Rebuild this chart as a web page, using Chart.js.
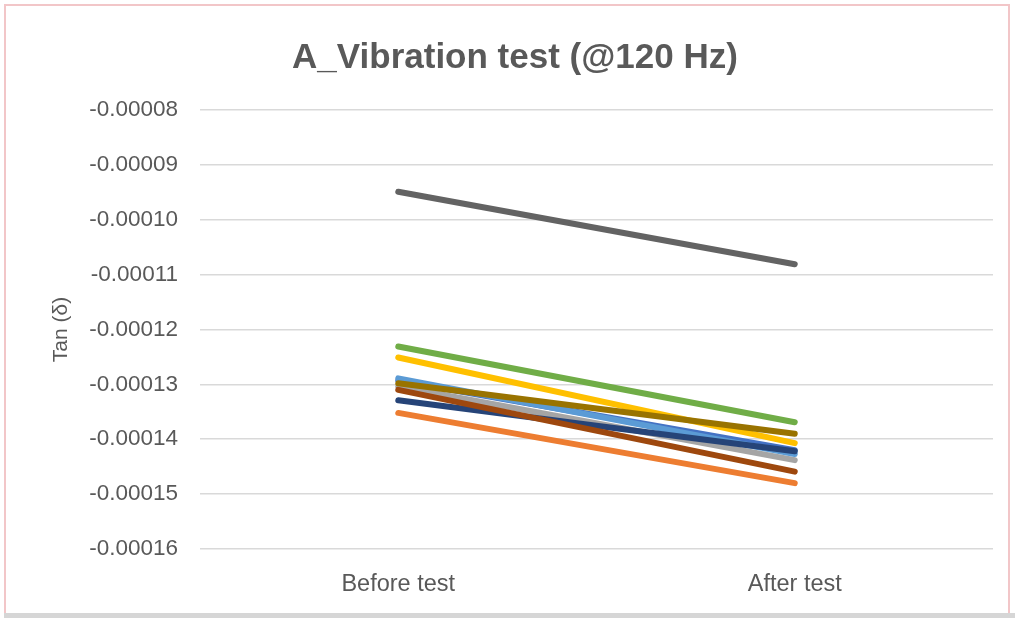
<!DOCTYPE html>
<html>
<head>
<meta charset="utf-8">
<script src="https://cdn.jsdelivr.net/npm/chart.js@4.4.0/dist/chart.umd.min.js"></script>
<style>
    html, body { margin: 0; padding: 0; background: #ffffff; }
    #wrap { position: relative; width: 1015px; height: 618px; overflow: hidden; }
    #frame {
        position: absolute; left: 4px; top: 4px; width: 1002px; height: 608px;
        border: 2px solid #f2c6c8; border-bottom: none;
    }
    #shadow { position: absolute; left: 4px; top: 613px; width: 1011px; height: 5px; background: #d6d6d6; }
    #chart { position: absolute; left: 0; top: 0; }
</style>
</head>
<body>
<div id="wrap">
    <div id="frame"></div>
    <div id="shadow"></div>
    <canvas id="chart" width="1015" height="612"></canvas>
</div>
<script>
// Categories and series
const categories = ['Before test', 'After test'];
const seriesNames = ['S1', 'S2', 'S3', 'S4', 'S5', 'S6', 'S7', 'S8', 'S9', 'S10'];
const seriesColors = ['#4472C4', '#ED7D31', '#A5A5A5', '#FFC000', '#5B9BD5', '#70AD47', '#264478', '#9E480E', '#636363', '#997300'];
const s1 = [-0.0001293, -0.0001420];
const s2 = [-0.0001352, -0.0001480];
const s3 = [-0.0001304, -0.0001438];
const s4 = [-0.0001251, -0.0001407];
const s5 = [-0.0001289, -0.0001427];
const s6 = [-0.0001231, -0.0001369];
const s7 = [-0.0001329, -0.0001422];
const s8 = [-0.0001310, -0.0001459];
const s9 = [-0.0000949, -0.0001081];
const s10 = [-0.0001298, -0.0001390];
const seriesValues = [s1, s2, s3, s4, s5, s6, s7, s8, s9, s10];

const yMin = -0.00016;
const yMax = -0.00008;
const yStep = 0.00001;

const textColor = '#595959';
const fontFamily = "'Liberation Sans', Arial, sans-serif";

// later series drawn underneath the first ones
const datasets = seriesValues.map((vals, i) => ({
    label: seriesNames[i],
    data: vals,
    borderColor: seriesColors[i],
    backgroundColor: seriesColors[i],
    borderWidth: 6,
    borderCapStyle: 'round',
    pointRadius: 0,
    tension: 0,
    order: seriesValues.length - i
}));

const ctx = document.getElementById('chart').getContext('2d');
const chart = new Chart(ctx, {
    type: 'line',
    data: { labels: categories, datasets: datasets },
    options: {
        responsive: false,
        animation: false,
        devicePixelRatio: 1,
        // left padding is larger so the title centre lands where Excel put it
        layout: { padding: { left: 37, right: 22, top: 0, bottom: 0 } },
        plugins: {
            legend: { display: false },
            tooltip: { enabled: false },
            title: {
                display: true,
                text: 'A_Vibration test (@120 Hz)',
                color: textColor,
                font: { family: fontFamily, size: 35, weight: 'bold' },
                padding: { top: 37, bottom: 31 }
            }
        },
        scales: {
            x: {
                offset: true,
                grid: { display: false },
                border: { display: false },
                ticks: {
                    color: textColor,
                    font: { family: fontFamily, size: 23.5 },
                    padding: 13,
                    maxRotation: 0
                },
                afterFit: function(scale) {
                    scale.height = 63;
                }
            },
            y: {
                min: yMin,
                max: yMax,
                grid: { color: '#d9d9d9', lineWidth: 1.5, drawTicks: false },
                border: { display: false },
                ticks: {
                    stepSize: yStep,
                    color: textColor,
                    font: { family: fontFamily, size: 22.5 },
                    padding: 22,
                    callback: function(value) {
                        return value.toFixed(5);
                    }
                },
                title: {
                    display: true,
                    text: 'Tan (δ)',
                    color: textColor,
                    font: { family: fontFamily, size: 21 },
                    padding: { top: 12, bottom: 0 }
                },
                afterFit: function(scale) {
                    scale.width = 163;
                }
            }
        }
    }
});
</script>
</body>
</html>
